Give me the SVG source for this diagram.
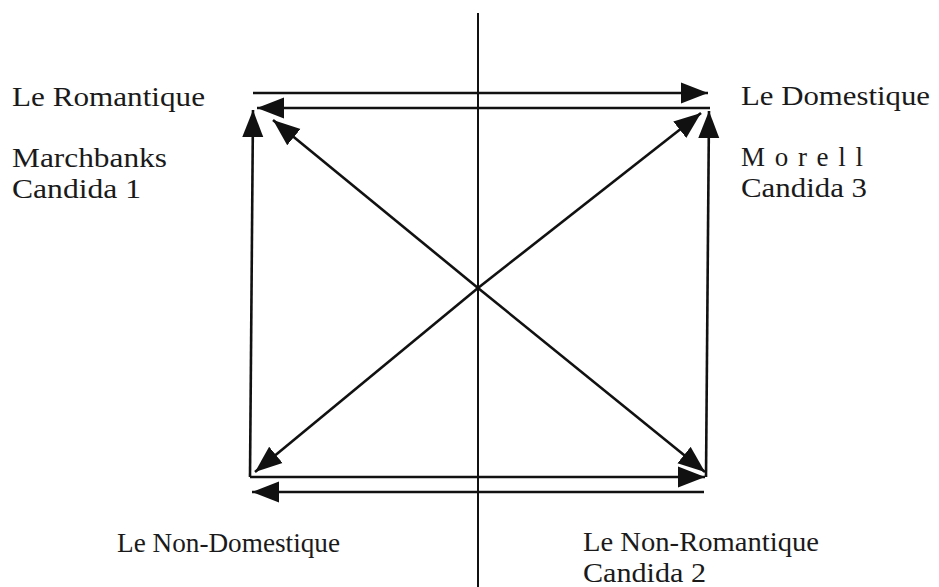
<svg xmlns="http://www.w3.org/2000/svg" width="939" height="587" viewBox="0 0 939 587">
<style>
.t{font-family:"Liberation Serif","Times New Roman",serif;font-size:27px;fill:#1a1a1a}
.l{stroke:#111;stroke-width:2.6;fill:none}
.ax{stroke:#111;stroke-width:2;fill:none}
</style>
<defs>
<marker id="ah" markerUnits="userSpaceOnUse" markerWidth="28" markerHeight="22" refX="27" refY="11" orient="auto">
<path d="M0,0.5 L27,11 L0,21.5 Z" fill="#111"/>
</marker>
</defs>
<rect width="939" height="587" fill="#fff"/>
<g id="axis">
<line class="ax" x1="478" y1="13" x2="478" y2="587"/>
</g>
<g id="connectors">
<line class="l" x1="253" y1="93" x2="708" y2="93" marker-end="url(#ah)"/>
<line class="l" x1="710" y1="108" x2="257" y2="108" marker-end="url(#ah)"/>
<line class="l" x1="250" y1="477" x2="253" y2="110" marker-end="url(#ah)"/>
<line class="l" x1="250" y1="477" x2="705" y2="477" marker-end="url(#ah)"/>
<line class="l" x1="704" y1="492" x2="252" y2="492" marker-end="url(#ah)"/>
<line class="l" x1="706" y1="477" x2="709" y2="111" marker-end="url(#ah)"/>
<line class="l" x1="478" y1="288" x2="273" y2="120" marker-end="url(#ah)"/>
<line class="l" x1="478" y1="288" x2="705" y2="472" marker-end="url(#ah)"/>
<line class="l" x1="478" y1="288" x2="255" y2="472" marker-end="url(#ah)"/>
<line class="l" x1="478" y1="288" x2="701" y2="113" marker-end="url(#ah)"/>
</g>
<g id="romantique">
<text class="t" x="12" y="106" textLength="193" lengthAdjust="spacingAndGlyphs">Le Romantique</text>
<text class="t" x="12" y="167" textLength="155" lengthAdjust="spacingAndGlyphs">Marchbanks</text>
<text class="t" x="12" y="198" textLength="129" lengthAdjust="spacingAndGlyphs">Candida 1</text>
</g>
<g id="domestique">
<text class="t" x="741" y="105" textLength="189" lengthAdjust="spacingAndGlyphs">Le Domestique</text>
<text class="t" x="741" y="166" textLength="122" lengthAdjust="spacing">Morell</text>
<text class="t" x="741" y="197" textLength="126" lengthAdjust="spacingAndGlyphs">Candida 3</text>
</g>
<g id="non-domestique">
<text class="t" x="117" y="552" textLength="223" lengthAdjust="spacingAndGlyphs">Le Non-Domestique</text>
</g>
<g id="non-romantique">
<text class="t" x="583" y="551" textLength="236" lengthAdjust="spacingAndGlyphs">Le Non-Romantique</text>
<text class="t" x="583" y="582" textLength="123" lengthAdjust="spacingAndGlyphs">Candida 2</text>
</g>
</svg>
